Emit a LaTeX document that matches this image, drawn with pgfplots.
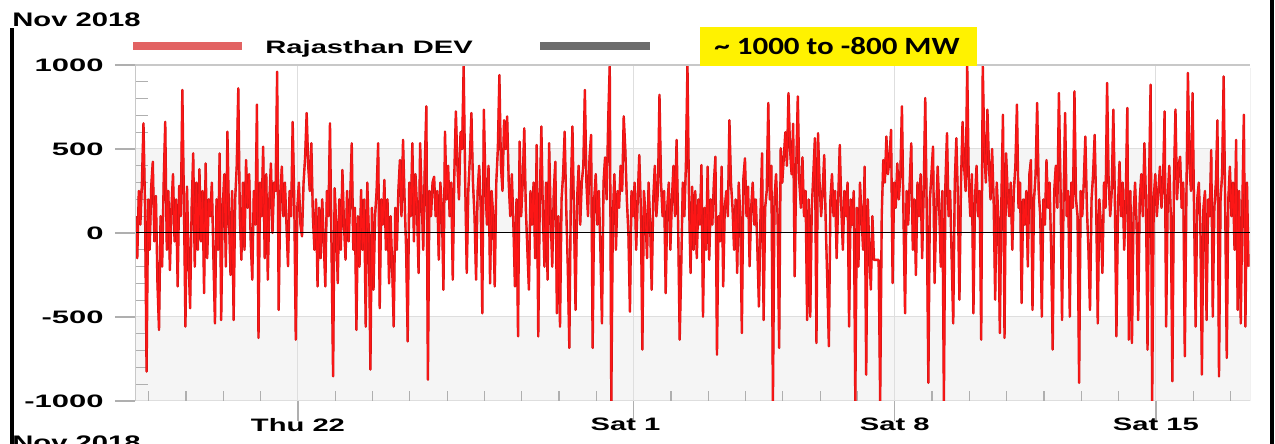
\documentclass[border=0pt]{standalone}
\usepackage{pgfplots}
\pgfplotsset{compat=1.18}
\usepackage{fontspec}
\usepackage{graphicx}
\usepackage{pgfplotstable}
\setmainfont{Liberation Sans}
\newfontfamily\calib{Carlito}
\definecolor{devred}{RGB}{252,22,22}
\definecolor{devdark}{RGB}{205,22,22}
\definecolor{legred}{RGB}{226,98,98}
\definecolor{leggray}{RGB}{108,108,108}
\definecolor{band}{RGB}{245,245,245}
\definecolor{gridc}{RGB}{222,222,222}
\definecolor{tickc}{RGB}{175,175,175}
\newcommand{\W}[1]{\scalebox{1.62}[1]{\bfseries #1}}
\newcommand{\Y}[1]{\scalebox{1.72}[1]{\bfseries #1}}
\pgfplotstableread[header=false, row sep=\\]{
100\\ -150\\ 250\\ 50\\ 300\\ 653\\ 150\\ -825\\ 200\\ -100\\ 280\\ 424\\ -50\\ 220\\ -300\\ -577\\ 100\\ -200\\ 300\\ 661\\ -100\\ 250\\ -220\\ 150\\
350\\ -50\\ 200\\ -318\\ 280\\ 100\\ 851\\ 200\\ -557\\ 276\\ -150\\ -448\\ 150\\ 474\\ -200\\ 300\\ -100\\ 380\\ -50\\ 250\\ -358\\ 414\\ -150\\ 200\\
100\\ 300\\ -150\\ -538\\ 200\\ -100\\ 474\\ -518\\ 150\\ 350\\ -200\\ 603\\ 100\\ -250\\ 250\\ -518\\ 200\\ 400\\ 861\\ 100\\ -159\\ 300\\ -100\\ 434\\
150\\ 350\\ -50\\ -278\\ 250\\ 50\\ 764\\ -625\\ 300\\ 100\\ 514\\ -150\\ 350\\ -278\\ 200\\ 414\\ 0\\ 300\\ 250\\ 960\\ -458\\ 200\\ 395\\ 100\\
300\\ 50\\ -198\\ 250\\ 100\\ 661\\ 200\\ -635\\ 150\\ 300\\ 50\\ -20\\ 300\\ 450\\ 714\\ 400\\ 250\\ 534\\ 100\\ -100\\ 200\\ -318\\ 150\\ -150\\
200\\ -50\\ -318\\ 250\\ 100\\ 653\\ -100\\ -853\\ 266\\ 50\\ -298\\ 200\\ -100\\ 375\\ 50\\ -159\\ 250\\ -50\\ 200\\ 534\\ -100\\ 150\\ -577\\ 100\\
-200\\ 256\\ -100\\ 200\\ -557\\ 300\\ 0\\ -813\\ 150\\ -337\\ 100\\ 250\\ 534\\ -448\\ 200\\ 50\\ 316\\ -100\\ 200\\ -300\\ 100\\ -200\\ -557\\ 150\\
-100\\ 250\\ 434\\ 100\\ 554\\ 200\\ -100\\ -645\\ 300\\ 100\\ 534\\ -50\\ 350\\ 150\\ -238\\ 534\\ 200\\ -100\\ 400\\ 754\\ -873\\ 250\\ 100\\ 300\\
335\\ 100\\ 250\\ -159\\ 300\\ 150\\ -338\\ 603\\ 200\\ 400\\ 100\\ 300\\ -278\\ 350\\ 724\\ 400\\ 200\\ 600\\ 500\\ 992\\ 300\\ -238\\ 250\\ 450\\
714\\ 300\\ 100\\ -278\\ 250\\ 400\\ 150\\ -478\\ 734\\ 300\\ 50\\ 400\\ -300\\ 250\\ 100\\ -318\\ 300\\ 500\\ 940\\ 400\\ 250\\ 671\\ 500\\ 694\\
300\\ 100\\ 350\\ 50\\ -318\\ 200\\ -615\\ 544\\ 100\\ 300\\ 623\\ 150\\ -100\\ -337\\ 250\\ 50\\ 300\\ -150\\ 524\\ -615\\ 200\\ 634\\ 100\\ -200\\
300\\ -278\\ 534\\ 100\\ -200\\ 250\\ 424\\ -478\\ 100\\ -557\\ 200\\ 350\\ 603\\ 150\\ -200\\ -684\\ 250\\ 634\\ 100\\ -458\\ 200\\ 400\\ 50\\ 300\\
400\\ 851\\ 300\\ 100\\ 450\\ 584\\ -684\\ 200\\ 350\\ 50\\ 250\\ -100\\ -538\\ 300\\ 450\\ 200\\ 671\\ 1000\\ -1000\\ 100\\ 350\\ -100\\ 250\\ 150\\
400\\ 250\\ 694\\ 500\\ 200\\ 0\\ -468\\ 250\\ 100\\ 300\\ -100\\ 200\\ 464\\ 150\\ -694\\ 250\\ 100\\ -150\\ 300\\ 50\\ -338\\ 200\\ 400\\ 100\\
250\\ 823\\ 300\\ 100\\ 250\\ -358\\ 150\\ 300\\ -100\\ 200\\ 400\\ 100\\ 554\\ 50\\ -635\\ -200\\ 300\\ 100\\ 400\\ 1000\\ 200\\ -238\\ 276\\ -100\\
250\\ -150\\ 200\\ 50\\ 404\\ -498\\ 150\\ -100\\ 395\\ -159\\ 200\\ 50\\ 300\\ 454\\ -724\\ 100\\ -50\\ 395\\ -318\\ 150\\ 250\\ 100\\ 671\\ 300\\
150\\ -100\\ 200\\ -238\\ 300\\ 100\\ -595\\ 325\\ 444\\ 100\\ 276\\ -198\\ 150\\ 300\\ 50\\ 200\\ -100\\ -438\\ 100\\ 474\\ -518\\ 150\\ 250\\ 774\\
200\\ 400\\ -1000\\ 200\\ 350\\ 100\\ -684\\ 504\\ 300\\ 450\\ 600\\ 400\\ 833\\ 500\\ 350\\ 650\\ -258\\ 400\\ 813\\ 300\\ 150\\ 450\\ 100\\ 250\\
-518\\ 200\\ -498\\ 150\\ 350\\ 564\\ -655\\ 594\\ 300\\ 100\\ 250\\ 464\\ 50\\ -300\\ -674\\ 200\\ 350\\ 100\\ 250\\ -150\\ 200\\ 524\\ 150\\ -100\\
250\\ 100\\ 300\\ -557\\ 200\\ 50\\ 250\\ -1000\\ 150\\ -200\\ 300\\ 100\\ -100\\ 395\\ -843\\ 200\\ -100\\ -337\\ 100\\ -160\\ -160\\ -160\\ -160\\ -1000\\
100\\ 434\\ 300\\ 574\\ 350\\ 450\\ 614\\ -298\\ 300\\ 150\\ 414\\ 200\\ 350\\ 754\\ 100\\ -478\\ 250\\ 50\\ 300\\ 534\\ -100\\ 200\\ -250\\ 300\\
100\\ 350\\ -150\\ 250\\ 803\\ 100\\ -892\\ 200\\ 350\\ 514\\ -298\\ 100\\ 395\\ 150\\ -200\\ 250\\ -1000\\ 300\\ 594\\ 100\\ 250\\ -150\\ -538\\ 300\\
564\\ 200\\ -397\\ 300\\ 661\\ 400\\ 250\\ 1000\\ 300\\ 100\\ 350\\ -478\\ 200\\ 400\\ 100\\ 250\\ -635\\ 1000\\ 500\\ 300\\ 734\\ 400\\ 200\\ 500\\
200\\ -397\\ 300\\ 100\\ -595\\ 200\\ 704\\ -625\\ 474\\ 250\\ 100\\ 300\\ -100\\ 250\\ 400\\ 764\\ 150\\ 300\\ -417\\ 200\\ 50\\ 250\\ -200\\ 350\\
434\\ -458\\ 200\\ 350\\ 774\\ 250\\ 100\\ -498\\ 200\\ 50\\ 434\\ 150\\ 300\\ -100\\ -694\\ 250\\ 400\\ 150\\ 833\\ 300\\ -518\\ 200\\ 714\\ 100\\
250\\ -498\\ 300\\ 150\\ 843\\ 200\\ 100\\ -892\\ 250\\ 100\\ 300\\ 574\\ 150\\ -100\\ -458\\ 200\\ 350\\ 584\\ 150\\ -538\\ 200\\ 50\\ -238\\ 300\\
150\\ 893\\ 300\\ 100\\ 250\\ 734\\ 200\\ -615\\ 150\\ 424\\ 100\\ 300\\ -100\\ 200\\ 744\\ -635\\ 250\\ -655\\ 100\\ 300\\ 50\\ -518\\ 200\\ 350\\
100\\ 534\\ 200\\ -694\\ 300\\ 883\\ -1000\\ 200\\ 350\\ 100\\ 250\\ 395\\ 150\\ 300\\ 724\\ -557\\ 200\\ 400\\ 100\\ -882\\ 300\\ 734\\ 200\\ 400\\
454\\ 150\\ 300\\ -734\\ 200\\ 953\\ 400\\ 250\\ 833\\ 100\\ -557\\ 200\\ 300\\ 50\\ -843\\ 150\\ 250\\ -518\\ 200\\ 100\\ 494\\ -498\\ 150\\ 300\\
671\\ -853\\ 200\\ 350\\ 932\\ 150\\ -744\\ 200\\ 395\\ 100\\ 300\\ -100\\ 554\\ -458\\ 250\\ -538\\ 150\\ 704\\ -557\\ 300\\ -200\\
}\devtable
\begin{document}
\begin{tikzpicture}[x=1pt,y=1pt]
\begin{axis}[
  at={(67.5pt,21.5pt)}, anchor=south west,
  scale only axis, width=557.5pt, height=168pt,
  xmin=-4.369, xmax=25.523, ymin=-1000, ymax=1000,
  set layers,
  axis line style={draw=none},
  grid=major, major grid style={draw=gridc, line width=0.5pt},
  tick style={draw=tickc, line width=0.6pt},
  xtick pos=bottom, ytick pos=left,
  tick align=outside, major tick length=10pt,
  tick label style={font=\fontsize{9}{10}\selectfont},
  xtick={0,9,16,23},
  xticklabels={\W{Thu 22},\W{Sat 1\phantom{0}},\W{Sat 8},\W{Sat 15}},
  ytick={-1000,-500,0,500,1000},
  yticklabels={\Y{-1000},\Y{-500},\Y{0},\Y{500},\Y{1000}},
  extra x ticks={-4,-3,-2,-1,1,2,3,4,5,6,7,8,10,11,12,13,14,15,17,18,19,20,21,22,24,25},
  extra x tick labels={},
  extra x tick style={tick align=inside, major tick length=5pt, grid=none},
  extra y ticks={-900,-800,-700,-600,-400,-300,-200,-100,100,200,300,400,600,700,800,900},
  extra y tick labels={},
  extra y tick style={tick align=inside, major tick length=6.5pt, grid=none},
  yticklabel style={anchor=east, inner sep=0pt, xshift=-5.5pt},
  xticklabel style={anchor=north, inner sep=0pt, yshift=1.5pt},
]
\begin{pgfonlayer}{axis background}
\fill[band] (rel axis cs:0,0) rectangle (rel axis cs:1,0.25);
\fill[band] (rel axis cs:0,0.5) rectangle (rel axis cs:1,0.75);
\end{pgfonlayer}
\addplot[devdark, line width=1.2pt, line join=round] table[x expr={\coordindex/24-4.35}, y index=0] {\devtable};
\addplot[devred, line width=0.7pt, line join=round] table[x expr={\coordindex/24-4.35}, y index=0] {\devtable};
\draw[black, line width=0.5pt] (rel axis cs:0,0.5) -- (rel axis cs:1,0.5);
\draw[draw={rgb,255:red,200;green,200;blue,200}, line width=0.8pt] (rel axis cs:0,0) -- (rel axis cs:0,1) -- (rel axis cs:1,1);
\draw[draw={rgb,255:red,150;green,150;blue,150}, line width=1.6pt] ([yshift=-0.8pt]rel axis cs:0,0) -- ([yshift=-0.8pt,xshift=2.5pt]rel axis cs:1,0);
\draw[draw={rgb,255:red,140;green,140;blue,140}, line width=2.5pt] ([xshift=1.25pt,yshift=-1.6pt]rel axis cs:1,0) -- ([xshift=1.25pt,yshift=-1.5pt]rel axis cs:1,1);
\end{axis}
% header and legend
\node[anchor=base west, inner sep=0pt, font=\fontsize{9.8}{11}\selectfont] at (6,208.5) {\scalebox{1.49}[1]{\bfseries Nov 2018}};
\node[anchor=base west, inner sep=0pt, font=\fontsize{9.8}{11}\selectfont] at (6,-3) {\scalebox{1.49}[1]{\bfseries Nov 2018}};
\draw[legred, line width=4pt] (66.5,199) -- (121,199);
\node[anchor=base west, inner sep=0pt, font=\fontsize{9}{10}\selectfont] at (132.5,195) {\W{Rajasthan DEV}};
\draw[leggray, line width=4pt] (270,199) -- (325,199);
\fill[yellow] (350,189) rectangle (488.5,208.5);
\node[anchor=base, inner sep=0pt, font=\calib\bfseries\fontsize{12.4}{14}\selectfont] at (418.5,194.5) {\scalebox{1.25}[1]{\textasciitilde\ 1000 to -800 MW}};
\draw[black, line width=2pt] (6,0) -- (6,208);
\draw[black, line width=2pt] (636,0) -- (636,222);
\pgfresetboundingbox
\path[use as bounding box] (0,0) rectangle (637.5,222);
\end{tikzpicture}
\end{document}
